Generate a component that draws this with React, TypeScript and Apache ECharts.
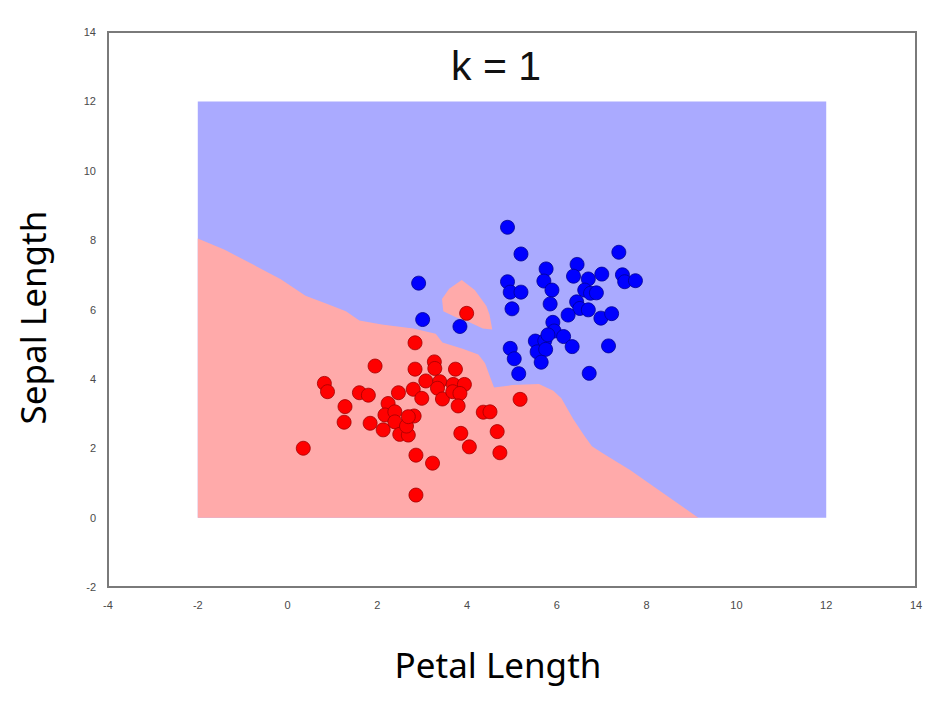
import React, { useEffect, useRef } from "react";
import * as echarts from "echarts";

const titleText = "k = 1";
const xName = "Petal Length";
const yName = "Sepal Length";

// decision region extents (blue background rectangle)
const regionRect: number[][] = [[-2, 0], [12, 0], [12, 12], [-2, 12]];

// red decision region (lower-left)
const redRegion: number[][] = [
  [-2, 0], [-2, 8.05], [-1.4, 7.72], [-0.7, 7.25], [-0.15, 6.87], [0.4, 6.4],
  [0.9, 6.15], [1.3, 5.95], [1.6, 5.68], [2.1, 5.57], [2.8, 5.45], [3.3, 5.3],
  [3.45, 5.05], [3.9, 4.87], [4.25, 4.7], [4.4, 4.45], [4.5, 4.1], [4.6, 3.75],
  [5.0, 3.82], [5.6, 3.85], [5.92, 3.66], [6.1, 3.44], [6.36, 2.85], [6.6, 2.38],
  [6.78, 2.06], [7.03, 1.85], [7.63, 1.37], [8.37, 0.7], [9.15, 0],
];

// red island inside the blue region
const redIsland: number[][] = [
  [3.88, 6.85], [4.17, 6.56], [4.43, 6.1], [4.5, 5.85], [4.56, 5.42], [4.35, 5.45],
  [4.05, 5.63], [3.75, 5.78], [3.47, 5.95], [3.44, 6.3], [3.6, 6.6],
];

const redPoints: number[][] = [
  [3.99, 5.89], [2.84, 5.04], [1.95, 4.37], [2.84, 4.28], [3.27, 4.49], [3.28, 4.3],
  [3.74, 4.28], [0.82, 3.87], [0.89, 3.63], [1.6, 3.6], [1.8, 3.53], [2.47, 3.6],
  [2.8, 3.7], [3.08, 3.94], [3.39, 3.92], [3.34, 3.73], [3.69, 3.84], [3.94, 3.84],
  [2.99, 3.44], [3.45, 3.42], [3.68, 3.63], [3.84, 3.58], [3.8, 3.22], [1.28, 3.2],
  [1.26, 2.75], [1.84, 2.72], [2.24, 3.29], [2.17, 2.96], [2.39, 3.05], [2.13, 2.53],
  [2.39, 2.76], [2.5, 2.4], [2.69, 2.38], [2.65, 2.64], [2.82, 2.93], [2.69, 2.91],
  [4.36, 3.04], [4.51, 3.05], [5.18, 3.41], [3.86, 2.43], [4.67, 2.48], [4.05, 2.04],
  [4.73, 1.87], [0.35, 2.0], [2.86, 1.8], [3.23, 1.57], [2.86, 0.65],
];

const bluePoints: number[][] = [
  [4.9, 8.37], [5.2, 7.6], [2.92, 6.76], [3.01, 5.71], [3.84, 5.51], [5.76, 7.17],
  [5.71, 6.82], [5.89, 6.56], [5.85, 6.16], [4.9, 6.8], [4.96, 6.5], [5.2, 6.5],
  [5.0, 6.02], [6.45, 7.3], [6.37, 6.96], [6.7, 6.88], [7.0, 7.02], [7.38, 7.65],
  [7.46, 7.0], [7.51, 6.8], [7.75, 6.83], [6.62, 6.56], [6.75, 6.47], [6.88, 6.48],
  [6.44, 6.22], [6.51, 6.03], [6.7, 5.99], [6.25, 5.84], [6.98, 5.75], [7.22, 5.88],
  [5.91, 5.63], [5.94, 5.38], [6.15, 5.22], [6.34, 4.93], [7.15, 4.95], [5.52, 5.09],
  [5.73, 5.1], [5.56, 4.78], [5.75, 4.85], [5.65, 4.48], [4.96, 4.88], [5.05, 4.58],
  [5.15, 4.15], [6.72, 4.16], [5.8, 5.27],
];

function polygonSeries(points: number[][], color: string, z: number) {
  return {
    type: "custom",
    z,
    silent: true,
    data: [[0, 0]],
    clip: true,
    renderItem: (_params: any, api: any) => ({
      type: "polygon",
      shape: { points: points.map((p) => api.coord(p)) },
      style: { fill: color, stroke: "none" },
    }),
  };
}

export default function App() {
  const ref = useRef<HTMLDivElement>(null);
  useEffect(() => {
    if (!ref.current) return;
    const chart = echarts.init(ref.current, undefined, { renderer: "svg" });
    const labelStyle = { color: "#4a4a4a", fontSize: 11, fontFamily: "Liberation Sans" };
    const nameStyle = { color: "#000", fontSize: 35, fontFamily: "Noto Sans" };
    chart.setOption({
      animation: false,
      backgroundColor: "#fff",
      title: {
        text: titleText,
        left: 446,
        top: 40,
        textStyle: { fontSize: 41, fontWeight: "normal", color: "#111", fontFamily: "Liberation Sans" },
      },
      grid: {
        left: 108,
        right: 19,
        top: 32,
        bottom: 114,
        show: true,
        borderColor: "#7a7a7a",
        borderWidth: 2,
        backgroundColor: "#fff",
      },
      xAxis: {
        type: "value",
        min: -4,
        max: 14,
        interval: 2,
        name: xName,
        nameLocation: "middle",
        nameGap: 60,
        nameTextStyle: { ...nameStyle, padding: [0, 28, 0, 0] },
        axisLine: { show: false },
        axisTick: { show: false },
        splitLine: { show: false },
        axisLabel: { ...labelStyle, margin: 12 },
      },
      yAxis: {
        type: "value",
        min: -2,
        max: 14,
        interval: 2,
        name: yName,
        nameLocation: "middle",
        nameGap: 58,
        nameTextStyle: { ...nameStyle, padding: [0, 16, 0, 0] },
        axisLine: { show: false },
        axisTick: { show: false },
        splitLine: { show: false },
        axisLabel: { ...labelStyle, margin: 12 },
      },
      series: [
        polygonSeries(regionRect, "#aaaaff", 1),
        polygonSeries(redRegion, "#ffaaaa", 2),
        polygonSeries(redIsland, "#ffaaaa", 2),
        {
          type: "scatter",
          z: 5,
          data: redPoints,
          symbolSize: 14,
          itemStyle: { color: "#ff0000", borderColor: "#a00000", borderWidth: 0.8, opacity: 1 },
        },
        {
          type: "scatter",
          z: 5,
          data: bluePoints,
          symbolSize: 14,
          itemStyle: { color: "#0000ff", borderColor: "#000090", borderWidth: 0.8, opacity: 1 },
        },
      ],
    });
    return () => chart.dispose();
  }, []);
  return <div ref={ref} style={{ width: 935, height: 701, position: "absolute", left: 0, top: 0 }} />;
}
